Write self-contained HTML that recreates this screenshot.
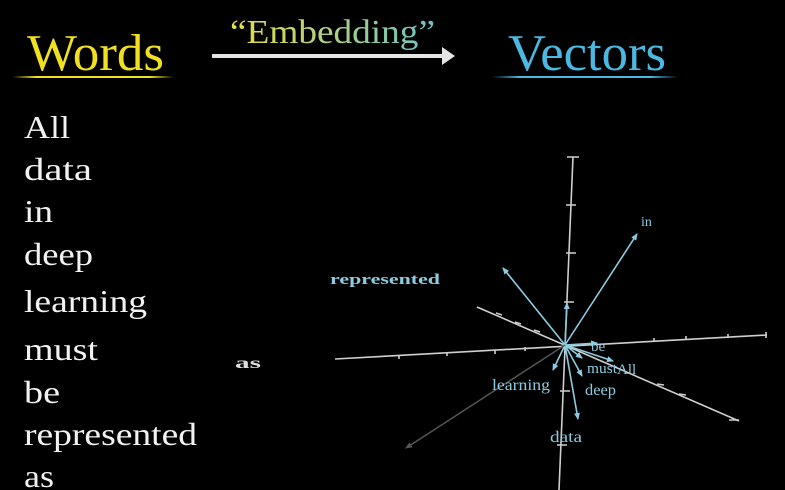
<!DOCTYPE html>
<html><head><meta charset="utf-8"><style>html,body{margin:0;padding:0;background:#000;}svg{display:block}</style></head>
<body>
<svg width="785" height="490" viewBox="0 0 785 490" xmlns="http://www.w3.org/2000/svg" font-family="'Liberation Serif', serif">
<defs>
<linearGradient id="emb" x1="0" x2="1" y1="0" y2="0"><stop offset="0" stop-color="#e8e040"/><stop offset="1" stop-color="#6cc0c8"/></linearGradient>
<linearGradient id="ul1" x1="0" x2="1"><stop offset="0" stop-color="#f0e020" stop-opacity="0"/><stop offset="0.15" stop-color="#f0e020"/><stop offset="0.85" stop-color="#f0e020"/><stop offset="1" stop-color="#f0e020" stop-opacity="0"/></linearGradient>
<linearGradient id="ul2" x1="0" x2="1"><stop offset="0" stop-color="#4ab8e0" stop-opacity="0"/><stop offset="0.15" stop-color="#4ab8e0"/><stop offset="0.85" stop-color="#4ab8e0"/><stop offset="1" stop-color="#4ab8e0" stop-opacity="0"/></linearGradient>
<marker id="ab" markerWidth="8" markerHeight="8" refX="6" refY="4" orient="auto" markerUnits="userSpaceOnUse"><path d="M0,1 L7,4 L0,7 z" fill="#8ccbe0"/></marker>
<marker id="ag" markerWidth="8" markerHeight="8" refX="6" refY="4" orient="auto" markerUnits="userSpaceOnUse"><path d="M0,1 L7,4 L0,7 z" fill="#555"/></marker>
</defs>
<text x="27" y="70" font-size="52" fill="#f0e020" textLength="137" lengthAdjust="spacingAndGlyphs">Words</text>
<text x="230" y="43" font-size="34" fill="url(#emb)" textLength="205" lengthAdjust="spacingAndGlyphs">“Embedding”</text>
<text x="508" y="70" font-size="52" fill="#4ab8e0" textLength="158" lengthAdjust="spacingAndGlyphs">Vectors</text>
<rect x="12" y="76" width="162" height="2" fill="url(#ul1)"/>
<rect x="212" y="54" width="231" height="4" fill="#e6e6e6"/>
<path d="M442,47 L455,56 L442,65 z" fill="#e6e6e6"/>
<rect x="492" y="76" width="186" height="2" fill="url(#ul2)"/>
<g font-size="32" fill="#f2f2f2">
<text x="24" y="138" textLength="46" lengthAdjust="spacingAndGlyphs">All</text>
<text x="24" y="180" textLength="68" lengthAdjust="spacingAndGlyphs">data</text>
<text x="24" y="222" textLength="29" lengthAdjust="spacingAndGlyphs">in</text>
<text x="24" y="265" textLength="69" lengthAdjust="spacingAndGlyphs">deep</text>
<text x="24" y="312" textLength="123" lengthAdjust="spacingAndGlyphs">learning</text>
<text x="24" y="360" textLength="74" lengthAdjust="spacingAndGlyphs">must</text>
<text x="24" y="403" textLength="36" lengthAdjust="spacingAndGlyphs">be</text>
<text x="24" y="445" textLength="173" lengthAdjust="spacingAndGlyphs">represented</text>
<text x="24" y="487" textLength="30" lengthAdjust="spacingAndGlyphs">as</text>
</g>
<text x="235" y="368" font-size="16" fill="#ddd" font-weight="bold" textLength="26" lengthAdjust="spacingAndGlyphs">as</text>
<g stroke="#cfcfcf" stroke-width="1.6" fill="none">
<line x1="573" y1="157" x2="559" y2="490"/>
<line x1="335" y1="359" x2="767" y2="335"/>
<line x1="477" y1="307" x2="739" y2="421"/>
<path d="M567,157h12 M566,205h10 M566,253h10 M564,302h10 M560,391h10 M557,445h10"/>
<path d="M399,355v4 M447,352v4 M495,350v4 M525,347v4 M654,338v4 M686,336v4 M728,334v4 M766,332v6"/>
<path d="M496,313l6,2 M515,322l6,2 M534,330l6,2 M657,384l7,1 M679,394l7,1 M729,420l10,0"/>
</g>
<g stroke="#8ccbe0" stroke-width="1.6" marker-end="url(#ab)">
<line x1="565" y1="345" x2="637" y2="234"/>
<line x1="565" y1="345" x2="503" y2="268"/>
<line x1="565" y1="345" x2="567" y2="303"/>
<line x1="565" y1="345" x2="597" y2="343"/>
<line x1="565" y1="345" x2="582" y2="358"/>
<line x1="565" y1="345" x2="613" y2="361"/>
<line x1="565" y1="345" x2="582" y2="376"/>
<line x1="565" y1="345" x2="578" y2="419"/>
<line x1="565" y1="345" x2="553" y2="370"/>
</g>
<line x1="565" y1="345" x2="406" y2="448" stroke="#555" stroke-width="1.5" marker-end="url(#ag)"/>
<g fill="#8ccbe0" font-size="16">
<text x="641" y="226" font-size="14">in</text>
<text x="330" y="284" font-size="15" font-weight="bold" textLength="110" lengthAdjust="spacingAndGlyphs">represented</text>
<text x="591" y="351" font-size="15">be</text>
<text x="587" y="373" font-size="15" textLength="30" lengthAdjust="spacingAndGlyphs">must</text>
<text x="617" y="374" font-size="15">All</text>
<text x="585" y="395" textLength="31" lengthAdjust="spacingAndGlyphs">deep</text>
<text x="492" y="390" textLength="58" lengthAdjust="spacingAndGlyphs">learning</text>
<text x="550" y="442" textLength="32" lengthAdjust="spacingAndGlyphs">data</text>
</g>
</svg>
</body></html>
